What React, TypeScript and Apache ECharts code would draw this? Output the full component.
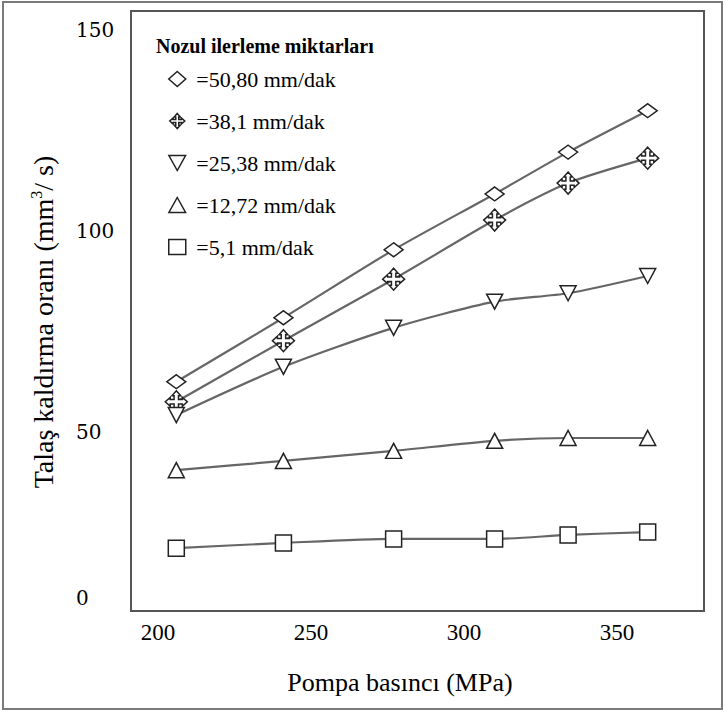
import React, { useEffect, useRef } from "react";
import * as echarts from "echarts";

// Pump pressure (MPa)
const pressure = [206, 241, 277, 310, 334, 360];
// Material removal rate (mm3/s) for each nozzle feed rate
const feed5080 = [62.5, 78.4, 95.3, 109.2, 119.6, 129.9];
const feed381 = [57.5, 72.7, 88, 102.7, 111.9, 118.1];
const feed2538 = [54.2, 66.2, 75.9, 82.4, 84.5, 88.8];
const feed1272 = [40.5, 42.8, 45.3, 47.8, 48.5, 48.5];
const feed51 = [21.1, 22.4, 23.4, 23.4, 24.4, 25.1];

const seriesNames = ["=50,80 mm/dak", "=38,1 mm/dak", "=25,38 mm/dak", "=12,72 mm/dak", "=5,1 mm/dak"];
const xTickValues = [200, 250, 300, 350];
const yTickValues = [50, 100, 150];
const legendTitle = "Nozul ilerleme miktarları";
const xTitle = "Pompa basıncı (MPa)";

const CROSS =
  "path://M10,0 L14,4.5 L12,4.5 L12,8 L15.5,8 L15.5,6 L20,10 L15.5,14 L15.5,12 L12,12 L12,15.5 L14,15.5 L10,20 L6,15.5 L8,15.5 L8,12 L4.5,12 L4.5,14 L0,10 L4.5,6 L4.5,8 L8,8 L8,4.5 L6,4.5 Z";
const TRI_DOWN = "path://M0,0 L20,0 L10,18 Z";
const TRI_UP = "path://M10,0 L20,18 L0,18 Z";

export default function App() {
  const ref = useRef<HTMLDivElement>(null);
  useEffect(() => {
    if (!ref.current) return;
    const chart = echarts.init(ref.current, undefined, { renderer: "svg" });
    const values = [feed5080, feed381, feed2538, feed1272, feed51];
    const symbols = ["diamond", CROSS, TRI_DOWN, TRI_UP, "rect"];
    const sizes: any[] = [[19, 14], [22, 22], [16, 15], [16, 15], [16, 16]];
    const serif = "Liberation Serif";
    const ink = "#000";
    chart.setOption({
      animation: false,
      backgroundColor: "#fff",
      grid: {
        left: 131,
        top: 11,
        right: 24,
        bottom: 101,
        show: true,
        borderColor: "#555",
        borderWidth: 2,
        backgroundColor: "transparent",
      },
      title: {
        text: legendTitle,
        left: 151,
        top: 31,
        textStyle: { fontFamily: serif, fontSize: 20, fontWeight: "bold", color: ink },
      },
      legend: {
        orient: "vertical",
        left: 168,
        top: 68,
        itemGap: 20,
        itemWidth: 17,
        itemHeight: 15,
        padding: 0,
        selectedMode: false,
        formatter: (n: string) => " " + n,
        textStyle: { fontFamily: serif, fontSize: 22, color: ink },
        itemStyle: { color: "#fff", borderColor: "#222", borderWidth: 1.5 },
        data: seriesNames.map((n, i) => ({ name: n, icon: symbols[i] })),
      },
      xAxis: {
        type: "value",
        min: 191.2,
        max: 378.4,
        name: xTitle,
        nameLocation: "middle",
        nameGap: 58,
        nameTextStyle: { fontFamily: serif, fontSize: 26, color: ink, padding: [0, 35, 0, 0] },
        axisLine: { show: false },
        axisTick: { show: false },
        splitLine: { show: false },
        axisLabel: {
          customValues: xTickValues,
          margin: 10,
          fontFamily: serif,
          fontSize: 23,
          color: ink,
        },
      },
      yAxis: {
        type: "value",
        min: 5.47,
        max: 154.7,
        name: "{b|Talaş kaldırma oranı (mm}{sup|3}{b|/ s)}",
        nameLocation: "middle",
        nameGap: 73,
        nameRotate: 90,
        nameTextStyle: {
          fontFamily: serif,
          fontSize: 28,
          color: ink,
          padding: [0, 22, 0, 0],
          rich: {
            b: { fontFamily: serif, fontSize: 28, color: ink },
            sup: { fontFamily: serif, fontSize: 16, color: ink, verticalAlign: "top", padding: [0, 0, 14, 0] },
          },
        },
        axisLine: { show: false },
        axisTick: { show: false },
        splitLine: { show: false },
        axisLabel: {
          customValues: yTickValues,
          margin: 55,
          align: "left",
          fontFamily: "DejaVu Serif",
          fontSize: 20,
          color: ink,
        },
      },
      graphic: [
        {
          type: "rect",
          shape: { x: 3, y: 2, width: 719, height: 707 },
          style: { fill: "none", stroke: "#7a7a7a", lineWidth: 2 },
          silent: true,
        },
        {
          type: "text",
          x: 76,
          y: 598,
          style: { text: "0", fontFamily: "DejaVu Serif", fontSize: 20, fill: ink, verticalAlign: "middle" },
          silent: true,
        },
      ],
      series: values.map((v, i) => ({
        type: "line",
        name: seriesNames[i],
        data: pressure.map((p, j) => [p, v[j]]),
        smooth: 0.25,
        symbol: symbols[i],
        symbolSize: sizes[i],
        lineStyle: { color: "#666", width: 2.2 },
        itemStyle: { color: "#fff", borderColor: "#222", borderWidth: 1.5 },
        showSymbol: true,
        z: 3,
      })),
    });
    return () => chart.dispose();
  }, []);
  return <div ref={ref} style={{ position: "fixed", left: 0, top: 0, width: 728, height: 712 }} />;
}
